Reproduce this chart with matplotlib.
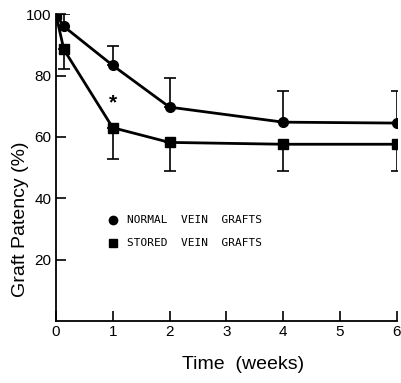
import matplotlib
matplotlib.use('Agg')
import matplotlib.pyplot as plt

# weeks after grafting
weeks = [0, 0.14, 1, 2, 4, 6]

normal = [100, 96, 83.3, 69.7, 64.8, 64.5]
normal_err = [0, 4, 6.4, 9.5, 10, 10.5]      # upper bars only

stored = [100, 88.5, 63, 58.2, 57.6, 57.6]
stored_err = [0, 6.5, 10.3, 9.4, 8.8, 8.8]    # lower bars only

plt.rcParams['font.family'] = ['Liberation Sans', 'DejaVu Sans']

fig = plt.figure(figsize=(4.02, 3.83), dpi=100)
ax = fig.add_axes([0.139, 0.162, 0.848, 0.801])

ax.errorbar(weeks[1:], normal[1:], yerr=[[0] * 5, normal_err[1:]], fmt='none',
            ecolor='black', elinewidth=1.2, capsize=4, capthick=1.2)
ax.errorbar(weeks[1:], stored[1:], yerr=[stored_err[1:], [0] * 5], fmt='none',
            ecolor='black', elinewidth=1.2, capsize=4, capthick=1.2)
ax.plot(weeks, normal, color='black', lw=2, marker='o', ms=7)
ax.plot(weeks, stored, color='black', lw=2, marker='s', ms=7)

ax.text(1, 71, '*', ha='center', va='center', fontsize=15, fontweight='bold')

# legend drawn by hand like the original
ax.plot([1.0], [33], 'o', color='black', ms=6)
ax.plot([1.0], [25.5], 's', color='black', ms=5.5)
ax.text(1.25, 33, 'NORMAL  VEIN  GRAFTS', va='center', fontsize=8, family='DejaVu Sans Mono')
ax.text(1.25, 25.5, 'STORED  VEIN  GRAFTS', va='center', fontsize=8, family='DejaVu Sans Mono')

ax.set_xlim(0, 6)
ax.set_ylim(0, 100)
ax.set_xticks(range(7))
ax.set_yticks([20, 40, 60, 80, 100])
ax.tick_params(direction='in', length=7, width=1.2, labelsize=11, pad=3)
for s in ['top', 'right']:
    ax.spines[s].set_visible(False)
for s in ['left', 'bottom']:
    ax.spines[s].set_linewidth(1.3)

ax.set_xlabel('Time  (weeks)', fontsize=14)
ax.set_ylabel('Graft Patency (%)', fontsize=14)
ax.xaxis.set_label_coords(0.55, -0.115)
ax.yaxis.set_label_coords(-0.08, 0.33)

fig.savefig('out.png', dpi=100)
